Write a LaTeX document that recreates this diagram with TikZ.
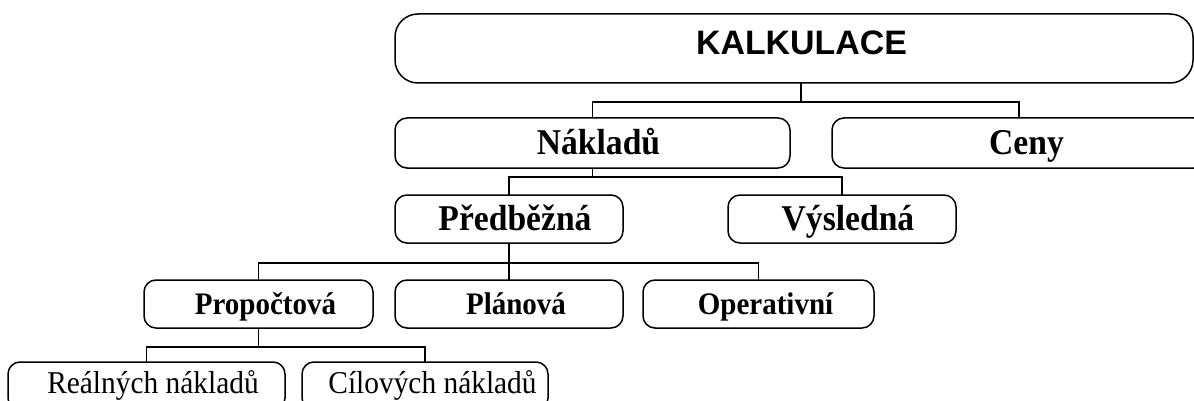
\documentclass[tikz,border=0pt]{standalone}
\usepackage{fontspec}
\usepackage{graphicx}
\setmainfont{Liberation Serif}
\newfontfamily\headfont{Liberation Sans}
% serif captions are set slightly taller than wide
\newcommand{\tallcap}[1]{\scalebox{1}[1.08]{#1}}
\begin{document}
\begin{tikzpicture}[x=1pt,y=-1pt,
  boxbase/.style={draw, line width=1.5pt, inner sep=0pt, outer sep=0pt},
  topbox/.style={boxbase, rounded corners=23pt},
  catbox/.style={boxbase, rounded corners=12pt},
  link/.style={line width=1.3pt},
  headtxt/.style={anchor=base, inner sep=0pt, font=\headfont\bfseries\fontsize{33.9}{40}\selectfont},
  bigtxt/.style={anchor=base, inner sep=0pt, font=\bfseries\fontsize{33.6}{40}\selectfont},
  midtxt/.style={anchor=base, inner sep=0pt, font=\bfseries\fontsize{29}{35}\selectfont},
  smalltxt/.style={anchor=base, inner sep=0pt, font=\fontsize{29.4}{35}\selectfont}]
\useasboundingbox (0,0) rectangle (1194,401);
\clip (0,0) rectangle (1194,401);

% boxes
\node[topbox, minimum width=798pt, minimum height=69pt] (kalk) at (794,48.5) {};
\node[catbox, minimum width=395pt, minimum height=50pt] (nak) at (592.5,143) {};
\node[catbox, minimum width=374pt, minimum height=50pt] (ceny) at (1019,143) {};
\node[catbox, minimum width=228pt, minimum height=48pt] (pred) at (509,219) {};
\node[catbox, minimum width=228pt, minimum height=48pt] (vys) at (842,219) {};
\node[catbox, minimum width=229pt, minimum height=48pt] (prop) at (258.5,304) {};
\node[catbox, minimum width=228pt, minimum height=48pt] (plan) at (509,304) {};
\node[catbox, minimum width=231pt, minimum height=48pt] (oper) at (758.5,304) {};
\node[catbox, minimum width=277pt, minimum height=48pt] (real) at (146.5,386) {};
\node[catbox, minimum width=246pt, minimum height=48pt] (cil) at (425,386) {};

% labels
\node[headtxt] (tkalk) at (801.5,55) {KALKULACE};
\node[bigtxt] (tnak) at (598.5,154) {\tallcap{Nákladů}};
\node[bigtxt] (tceny) at (1026.5,154) {\tallcap{Ceny}};
\node[bigtxt] (tpred) at (515,230) {\tallcap{Předběžná}};
\node[bigtxt] (tvys) at (848,230) {\tallcap{Výsledná}};
\node[midtxt] (tprop) at (265.5,314) {\tallcap{Propočtová}};
\node[midtxt] (tplan) at (516,314) {\tallcap{Plánová}};
\node[midtxt] (toper) at (765.5,314) {\tallcap{Operativní}};
\node[smalltxt] (treal) at (153,393) {\tallcap{Reálných nákladů}};
\node[smalltxt] (tcil) at (432.5,393) {\tallcap{Cílových nákladů}};

% connectors
\draw[link] ([xshift=7pt]kalk.south) -- ++(0,19) coordinate (b1);
\draw[link] (nak.north) |- (b1) -| (ceny.north);
\draw[link] (nak.south) -- ++(0,9) coordinate (b2);
\draw[link] (pred.north) |- (b2) -| (vys.north);
\draw[link] (pred.south) -- (plan.north);
\path (pred.south) ++(0,20) coordinate (b3);
\draw[link] (prop.north) |- (b3) -| (oper.north);
\draw[link] (prop.south) -- ++(0,19) coordinate (b4);
\draw[link] (real.north) |- (b4) -| (cil.north);
\end{tikzpicture}
\end{document}
